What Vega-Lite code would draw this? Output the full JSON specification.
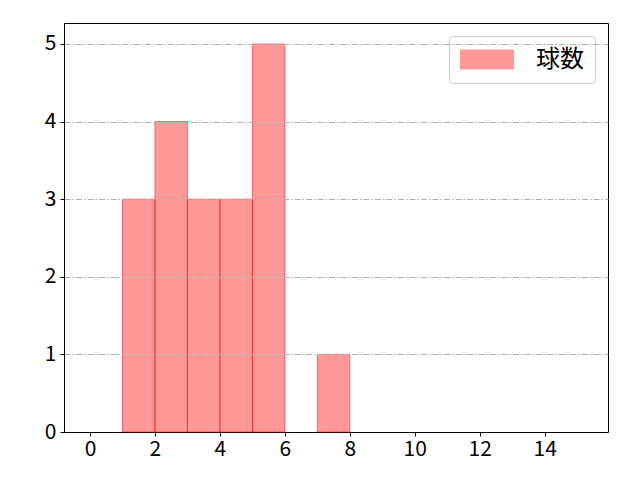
{
  "$schema": "https://vega.github.io/schema/vega-lite/v6.json",
  "width": 544,
  "height": 409,
  "autosize": "none",
  "padding": {"left": 64, "top": 23, "right": 32, "bottom": 48},
  "config": {
    "font": "Noto Sans CJK JP",
    "view": {"stroke": "#000000", "strokeWidth": 1},
    "axis": {
      "labelFont": "Noto Sans CJK JP",
      "labelFontSize": 21,
      "labelColor": "#000000",
      "tickColor": "#000000",
      "tickSize": 4,
      "domain": false
    }
  },
  "data": {
    "values": [
      {"start": 1, "end": 2, "count": 3, "series": "球数"},
      {"start": 2, "end": 3, "count": 4, "series": "球数"},
      {"start": 3, "end": 4, "count": 3, "series": "球数"},
      {"start": 4, "end": 5, "count": 3, "series": "球数"},
      {"start": 5, "end": 6, "count": 5, "series": "球数"},
      {"start": 7, "end": 8, "count": 1, "series": "球数"}
    ]
  },
  "mark": {
    "type": "rect",
    "fillOpacity": 0.4,
    "stroke": "#ff0000",
    "strokeOpacity": 0.5,
    "strokeWidth": 1
  },
  "encoding": {
    "x": {
      "field": "start",
      "type": "quantitative",
      "scale": {"domain": [-0.8, 15.95], "nice": false, "zero": false},
      "axis": {"values": [0, 2, 4, 6, 8, 10, 12, 14], "grid": false, "title": null, "labelPadding": 2}
    },
    "x2": {"field": "end"},
    "y": {
      "field": "count",
      "type": "quantitative",
      "scale": {"domain": [0, 5.27], "nice": false},
      "axis": {
        "values": [0, 1, 2, 3, 4, 5],
        "title": null,
        "grid": true,
        "gridColor": "#b0b0b0",
        "gridDash": [6, 2, 1.5, 2],
        "gridWidth": 1,
        "gridOpacity": {"condition": {"test": "datum.value === 0", "value": 0}, "value": 1},
        "zindex": 1,
        "labelPadding": 4
      }
    },
    "y2": {"datum": 0},
    "color": {
      "field": "series",
      "type": "nominal",
      "scale": {"range": ["#ff0000"]},
      "legend": {
        "title": null,
        "orient": "top-right",
        "offset": 13,
        "symbolType": "M-1,-0.79H3.42V0.79H-1Z",
        "symbolSize": 576,
        "symbolOpacity": 0.4,
        "symbolStrokeColor": "#ff0000",
        "symbolStrokeWidth": 1,
        "labelFontSize": 24,
        "labelFont": "Noto Sans CJK JP",
        "labelColor": "#000000",
        "labelOffset": 51,
        "padding": 11,
        "strokeColor": "#cccccc",
        "cornerRadius": 4,
        "fillColor": "#ffffff"
      }
    }
  }
}
